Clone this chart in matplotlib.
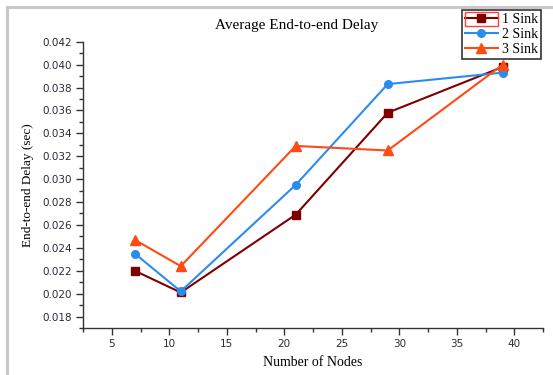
import numpy as np
import matplotlib
matplotlib.use('Agg')
import matplotlib.pyplot as plt
from matplotlib.lines import Line2D
from matplotlib.patches import Rectangle
from matplotlib.ticker import MultipleLocator, FormatStrFormatter

# data
nodes = [7, 11, 21, 29, 39]
sink1 = [0.0220, 0.0201, 0.0269, 0.0358, 0.0398]
sink2 = [0.0235, 0.0202, 0.0295, 0.0383, 0.0393]
sink3 = [0.0247, 0.0224, 0.0329, 0.0325, 0.0400]
labels = ['1 Sink', '2 Sink', '3 Sink']

serif = 'Liberation Serif'

fig = plt.figure(figsize=(5.53, 3.75), dpi=100)
ax = fig.add_axes([83 / 553, 1 - 328 / 375, 460 / 553, (328 - 41.7) / 375])

ax.plot(nodes, sink1, color='#800000', marker='s', ms=5.5, lw=1.5, label=labels[0])
ax.plot(nodes, sink2, color='#2b8cf0', marker='o', ms=5.5, lw=1.5, label=labels[1])
ax.plot(nodes, sink3, color='#ff4a14', marker='^', ms=6.5, lw=1.5, label=labels[2])

ax.set_xlim(2.5, 42.5)
ax.set_ylim(0.017, 0.042)
ax.xaxis.set_major_locator(MultipleLocator(5))
ax.xaxis.set_minor_locator(MultipleLocator(2.5))
ax.yaxis.set_minor_locator(MultipleLocator(0.001))
ax.yaxis.set_major_formatter(FormatStrFormatter('%.3f'))
ax.set_yticks(np.arange(0.018, 0.0421, 0.002))

for s in ['top', 'right']:
    ax.spines[s].set_visible(False)
for s in ['left', 'bottom']:
    ax.spines[s].set_color('#333333')
    ax.spines[s].set_linewidth(1.0)
ax.tick_params(which='major', direction='out', length=5, width=1, color='#333333',
               labelsize=7.5, labelcolor='#2a2a3a', pad=3)
ax.tick_params(which='minor', direction='out', length=3, width=1, color='#333333')

ax.set_xlabel('Number of Nodes', family=serif, fontsize=10, labelpad=5)
ax.set_ylabel('End-to-end Delay (sec)', family=serif, fontsize=9.5, labelpad=6)
fig.text(297 / 553, 1 - 25 / 375, 'Average End-to-end Delay', family=serif,
         fontsize=11, ha='center', va='center')

leg = ax.legend(loc='upper right', bbox_to_anchor=(541 / 553, 1 - 10 / 375),
                bbox_transform=fig.transFigure, prop={'family': serif, 'size': 10},
                frameon=True, fancybox=False, edgecolor='#333333', framealpha=1,
                borderpad=0.2, labelspacing=0.15, handlelength=2.4,
                handletextpad=0.3, borderaxespad=0)
leg.get_frame().set_linewidth(1.2)

# red selection box around first legend handle
fig.patches.append(Rectangle((465 / 553, 1 - 26 / 375), 33 / 553, 14 / 375,
                             transform=fig.transFigure, fill=False,
                             edgecolor='#ff4040', lw=1.0))

# gray frame at left and top
fig.add_artist(Line2D([7 / 553, 7 / 553], [0, 1 - 7 / 375], transform=fig.transFigure,
                      color='#c8c8c8', lw=2.2))
fig.add_artist(Line2D([7 / 553, 1], [1 - 7 / 375, 1 - 7 / 375], transform=fig.transFigure,
                      color='#c8c8c8', lw=2.2))

fig.savefig('out.png', dpi=100)
